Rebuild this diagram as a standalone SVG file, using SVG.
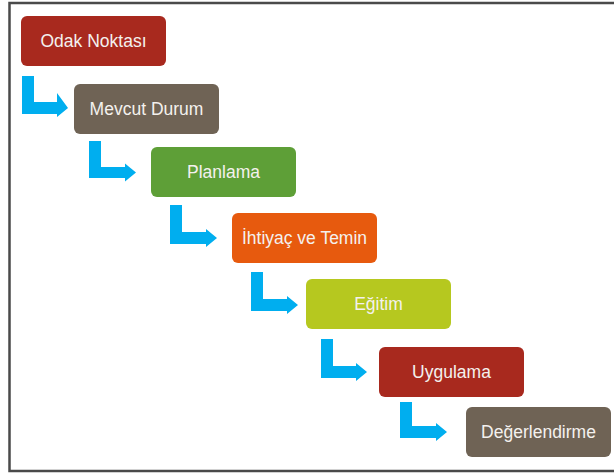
<svg xmlns="http://www.w3.org/2000/svg" width="614" height="476" viewBox="0 0 614 476">
<style>
.box{stroke:none}
.lbl{font-family:"Liberation Sans",Arial,sans-serif;font-size:17.5px;fill:#f4f1ee;text-anchor:middle}
.arr{fill:#00aeef}
</style>
<rect width="614" height="476" fill="#ffffff"/>
<path d="M614,3 H9.5 V471 H614" fill="none" stroke="#4a4a4a" stroke-width="2.5"/>
<g id="connectors">
<path class="arr" d="M22,76 H34 V102 H57 V93 L68,108 L57,117 V114 H22 Z"/>
<path class="arr" d="M89,141 H101 V167 H125 V163.5 L136,172.5 L125,181.5 V178 H89 Z"/>
<path class="arr" d="M170,205 H182 V232 H206 V229 L217,238 L206,247 V244 H170 Z"/>
<path class="arr" d="M251,272 H263 V299 H287 V296 L298,305 L287,314 V311 H251 Z"/>
<path class="arr" d="M321,339 H333 V366 H356 V363 L367,372 L356,381 V378 H321 Z"/>
<path class="arr" d="M400,402 H412 V426 H436 V423 L447,432 L436,441 V438 H400 Z"/>
</g>
<g id="n1"><rect class="box" x="21" y="16" width="145" height="50" rx="6" fill="#a8291e"/><text class="lbl" x="93.5" y="47">Odak Noktası</text></g>
<g id="n2"><rect class="box" x="74" y="84" width="145" height="50" rx="6" fill="#6f6355"/><text class="lbl" x="146.5" y="115">Mevcut Durum</text></g>
<g id="n3"><rect class="box" x="151" y="147" width="145" height="50" rx="6" fill="#5e9f37"/><text class="lbl" x="223.5" y="178">Planlama</text></g>
<g id="n4"><rect class="box" x="232" y="213" width="145" height="50" rx="6" fill="#e75a0e"/><text class="lbl" x="304.5" y="244">İhtiyaç ve Temin</text></g>
<g id="n5"><rect class="box" x="306" y="279" width="145" height="50" rx="6" fill="#b6c81f"/><text class="lbl" x="378.5" y="310">Eğitim</text></g>
<g id="n6"><rect class="box" x="379" y="347" width="145" height="50" rx="6" fill="#a8291e"/><text class="lbl" x="451.5" y="378">Uygulama</text></g>
<g id="n7"><rect class="box" x="466" y="407" width="145" height="50" rx="6" fill="#6f6355"/><text class="lbl" x="538.5" y="438">Değerlendirme</text></g>
</svg>
